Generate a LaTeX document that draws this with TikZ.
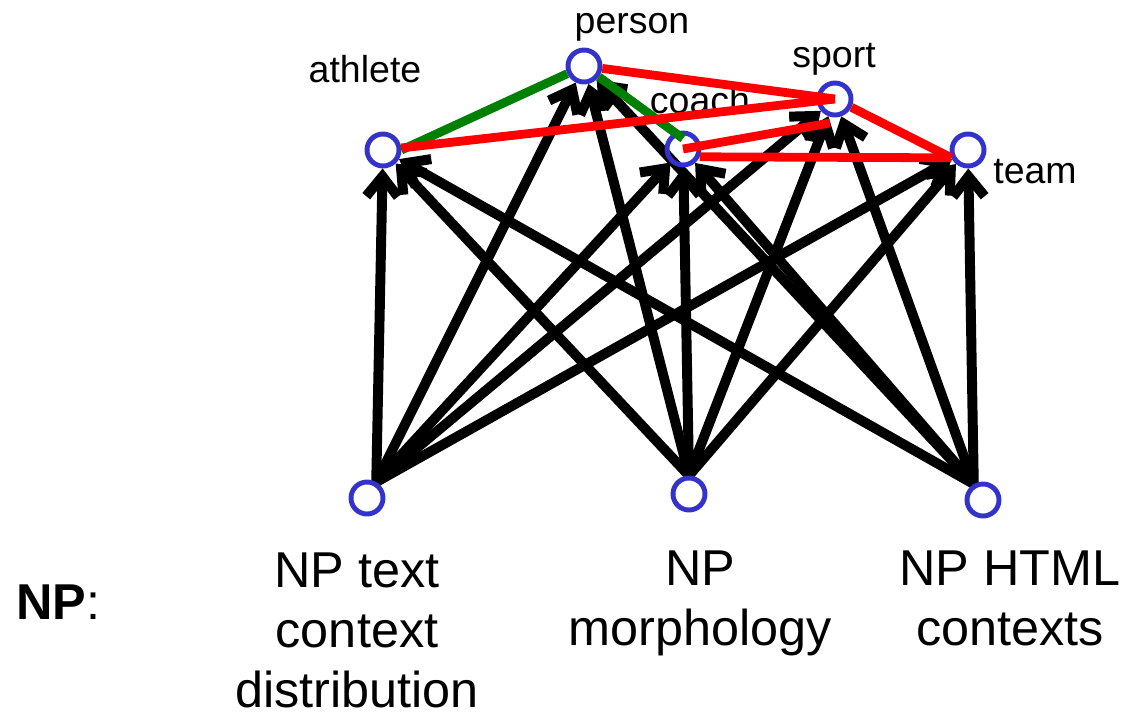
\documentclass[tikz,border=0pt]{standalone}
\usepackage{fontspec}
\setmainfont{Liberation Sans}
\usetikzlibrary{arrows.meta}
\pgfdeclarelayer{bg}
\pgfsetlayers{bg,main}
\definecolor{nodeblue}{RGB}{51,51,204}
\definecolor{edgered}{RGB}{255,0,0}
\definecolor{edgegreen}{RGB}{0,128,0}
\tikzset{
  vnode/.style={circle,draw=nodeblue,line width=4.2pt,minimum size=0.96cm,inner sep=0pt},
  lbl/.style={font=\fontsize{32}{38}\selectfont,anchor=base,inner sep=0pt},
  blbl/.style={font=\fontsize{43}{51}\selectfont,align=center,anchor=north,inner sep=0pt},
  arr/.style={line width=8.5pt,black,line join=round,-{Straight Barb[length=0.6cm,width=0.95cm]}},
  redge/.style={line width=7.5pt,edgered},
  gedge/.style={line width=7.5pt,edgegreen}
}
\begin{document}
\begin{tikzpicture}[x=0.03cm,y=-0.03cm]
\useasboundingbox (0,0) rectangle (1130,717);
% top nodes
\node[vnode] (person) at (584,66) {};
\node[vnode] (sport) at (835,99) {};
\node[vnode] (athlete) at (383,150) {};
\node[vnode] (coach) at (683,149) {};
\node[vnode] (team) at (968,150) {};
% bottom nodes
\node[vnode] (text) at (367,498) {};
\node[vnode] (morph) at (689,494) {};
\node[vnode] (html) at (983,500) {};
% labels
\node[lbl] (lperson) at (632,33) {person};
\node[lbl] (lsport) at (834,67) {sport};
\node[lbl] (lathlete) at (365,82) {athlete};
\node[lbl] (lcoach) at (700,113) {coach};
\node[lbl] (lteam) at (1035,183) {team};
\node[blbl] (ltext) at (357,553) {NP text\\context\\distribution};
\node[blbl] (lmorph) at (700,551) {NP\\morphology};
\node[blbl] (lhtml) at (1010,551) {NP HTML\\contexts};
\node[font=\fontsize{43}{51}\selectfont,anchor=base west,inner sep=0pt] (lnp) at (16,619) {\textbf{NP}:};
% black arrows
\begin{pgfonlayer}{bg}
\foreach \t in {athlete,person,coach,sport,team}{
  \draw[arr] (text.60) -- (\t);
  \draw[arr] (morph.north) -- (\t);
  \draw[arr] (html.120) -- (\t);
}
\end{pgfonlayer}
% green edges
\draw[gedge] (athlete.east) -- (person);
\draw[gedge] (person) -- ([yshift=-0.24cm]coach.north);
% red edges
\coordinate (sportlow) at (830,123);
\draw[redge] (person) -- (sport.center);
\draw[redge] (athlete) -- (sport.center);
\draw[redge] (coach.center) -- (sportlow);
\draw[redge] (coach.-25) -- (team.205);
\draw[redge] (sport) -- (team.205);
\end{tikzpicture}
\end{document}
